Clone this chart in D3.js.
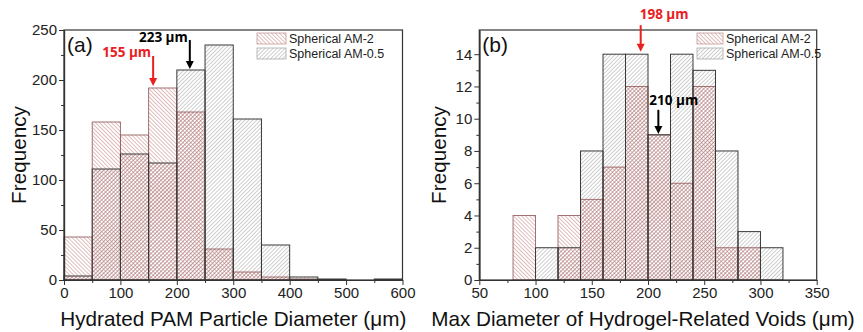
<!DOCTYPE html>
<html>
<head>
<meta charset="utf-8">
<script src="https://cdn.jsdelivr.net/npm/d3@7/dist/d3.min.js"></script>
<style>
  body { margin: 0; background: #fff; }
  svg { display: block; font-family: "Liberation Sans", Arial, sans-serif; }
</style>
</head>
<body>
<div id="viz"></div>
<script>
// panel (a): hydrated PAM particle diameter, bins of 50 um
var binsA = [0, 50, 100, 150, 200, 250, 300, 350, 400, 450, 500, 550];
var am2A  = [43, 158, 145, 192, 168, 31, 8, 3, 1, 0, 0, 0];
var am05A = [4, 111, 126, 117, 210, 235, 161, 35, 3, 1, 0, 1];

// panel (b): max diameter of hydrogel-related voids, bins of 20 um
var binsB = [80, 100, 120, 140, 160, 180, 200, 220, 240, 260, 280, 300];
var am2B  = [4, 0, 4, 5, 7, 12, 9, 6, 12, 2, 2, 0];
var am05B = [0, 2, 2, 8, 14, 14, 9, 14, 13, 8, 3, 2];

var xTicksA = [0, 100, 200, 300, 400, 500, 600];
var yTicksA = [0, 50, 100, 150, 200, 250];
var xTicksB = [50, 100, 150, 200, 250, 300, 350];
var yTicksB = [0, 2, 4, 6, 8, 10, 12, 14];

var seriesNames = ['Spherical AM-2', 'Spherical AM-0.5'];

// arrows: x, y start, y tip (data units), label
var arrowsA = [
  { x: 158, y0: 224, y1: 194, label: '155 \u03bcm', color: '#e8201f' },
  { x: 223, y0: 240, y1: 211, label: '223 \u03bcm', color: '#000' }
];
var arrowsB = [
  { x: 193.5, y0: 15.8, y1: 14.15, label: '198 \u03bcm', color: '#e8201f' },
  { x: 209.2, y0: 10.55, y1: 9.05, label: '210 \u03bcm', color: '#000' }
];

var W = 863, H = 332;
var svg = d3.select('#viz').append('svg').attr('width', W).attr('height', H);

var defs = svg.append('defs');
function hatch(id, angle, color, gap, sw) {
  var p = defs.append('pattern')
    .attr('id', id)
    .attr('patternUnits', 'userSpaceOnUse')
    .attr('width', gap).attr('height', gap)
    .attr('patternTransform', 'rotate(' + angle + ')');
  p.append('line')
    .attr('x1', 0).attr('y1', 0).attr('x2', 0).attr('y2', gap)
    .attr('stroke', color).attr('stroke-width', sw);
}
hatch('redHatch', -45, '#b56565', 2.8, 0.85);
hatch('redHatch2', 45, '#b87070', 2.8, 0.85);
hatch('grayHatch', 45, '#8c8c8c', 2.8, 0.85);

function panel(opt) {
  var g = svg.append('g');
  var x = d3.scaleLinear().domain(opt.xDomain).range([opt.left, opt.right]);
  var y = d3.scaleLinear().domain(opt.yDomain).range([opt.bottom, opt.top]);
  var overlap = opt.am2.map(function(v, i) { return Math.min(v, opt.am05[i]); });

  function bars(vals, fill, stroke, sw) {
    g.append('g').selectAll('rect').data(opt.bins)
      .enter().append('rect')
      .attr('x', function(d) { return x(d); })
      .attr('width', function(d) { return x(d + opt.binW) - x(d); })
      .attr('y', function(d, i) { return y(vals[i]); })
      .attr('height', function(d, i) { return y(0) - y(vals[i]); })
      .attr('fill', fill)
      .attr('stroke', stroke).attr('stroke-width', sw)
      .style('display', function(d, i) { return vals[i] > 0 ? null : 'none'; });
  }
  // AM-0.5 underneath, AM-2 on top, overlap cross-hatched red
  bars(opt.am05, 'url(#grayHatch)', 'none', 0);
  bars(opt.am2, 'url(#redHatch)', 'none', 0);
  bars(overlap, 'url(#redHatch2)', 'none', 0);
  bars(opt.am2, 'none', '#9a6464', 0.9);
  bars(opt.am05, 'none', '#3a3a3a', 1);

  // frame
  g.append('rect')
    .attr('x', opt.left).attr('y', opt.top)
    .attr('width', opt.right - opt.left).attr('height', opt.bottom - opt.top)
    .attr('fill', 'none').attr('stroke', '#333').attr('stroke-width', 1.2);

  // axes
  g.append('g').attr('transform', 'translate(0,' + opt.bottom + ')')
    .call(d3.axisBottom(x).tickValues(opt.xTicks).tickSize(5).tickSizeOuter(0).tickPadding(2));
  g.append('g').attr('transform', 'translate(0,' + opt.bottom + ')')
    .call(d3.axisBottom(x).tickValues(opt.xMinor).tickSize(3).tickSizeOuter(0).tickFormat(''));
  g.append('g').attr('transform', 'translate(' + opt.left + ',0)')
    .call(d3.axisLeft(y).tickValues(opt.yTicks).tickSize(5).tickSizeOuter(0).tickPadding(2));
  g.append('g').attr('transform', 'translate(' + opt.left + ',0)')
    .call(d3.axisLeft(y).tickValues(opt.yMinor).tickSize(3).tickSizeOuter(0).tickFormat(''));
  g.selectAll('.domain').attr('stroke', '#333').attr('stroke-width', 1.2);
  g.selectAll('.tick line').attr('stroke', '#333');
  g.selectAll('.tick text').attr('font-size', 15).attr('fill', '#222')
    .attr('font-family', '"Liberation Sans", Arial, sans-serif');

  // axis titles
  g.append('text')
    .attr('x', (opt.left + opt.right) / 2 + opt.xTitleDx).attr('y', 326)
    .attr('text-anchor', 'middle').attr('font-size', 20.7).attr('fill', '#111')
    .text(opt.xTitle);
  g.append('text')
    .attr('transform', 'translate(' + opt.yTitleX + ',' + ((opt.top + opt.bottom) / 2) + ') rotate(-90)')
    .attr('text-anchor', 'middle').attr('font-size', 20.7).attr('fill', '#111')
    .text('Frequency');

  // panel letter
  g.append('text')
    .attr('x', opt.left + 3).attr('y', opt.top + 22)
    .attr('font-size', 21).attr('fill', '#111')
    .text(opt.letter);

  // legend
  var lg = g.append('g');
  seriesNames.forEach(function(name, i) {
    var yy = 33 + i * 15;
    lg.append('rect')
      .attr('x', opt.legX).attr('y', yy)
      .attr('width', opt.legW).attr('height', 11)
      .attr('fill', i === 0 ? 'url(#redHatch)' : 'url(#grayHatch)')
      .attr('stroke', i === 0 ? '#c79a9a' : '#aaa').attr('stroke-width', 0.8);
    lg.append('text')
      .attr('x', opt.legX + opt.legW + 3).attr('y', yy + 10)
      .attr('font-size', 12.5).attr('fill', '#222')
      .text(name);
  });

  // arrows with labels
  opt.arrows.forEach(function(a, i) {
    var ax = x(a.x), ay0 = y(a.y0), ay1 = y(a.y1);
    g.append('line')
      .attr('x1', ax).attr('x2', ax).attr('y1', ay0).attr('y2', ay1 - 7)
      .attr('stroke', a.color).attr('stroke-width', 2);
    g.append('path')
      .attr('d', 'M' + (ax - 4) + ',' + (ay1 - 8) + 'L' + (ax + 4) + ',' + (ay1 - 8) + 'L' + ax + ',' + ay1 + 'Z')
      .attr('fill', a.color);
    var lp = opt.labelPos[i];
    g.append('text')
      .attr('x', ax + lp.dx).attr('y', ay0 + lp.dy)
      .attr('text-anchor', lp.anchor)
      .attr('font-family', '"Open Sans", sans-serif').attr('font-weight', 'bold')
      .attr('font-size', 13.5).attr('fill', a.color)
      .text(a.label);
  });
}

panel({
  letter: '(a)',
  left: 64, right: 402.5, top: 30, bottom: 280,
  xDomain: [0, 600], yDomain: [0, 250],
  bins: binsA, binW: 50, am2: am2A, am05: am05A,
  xTicks: xTicksA, yTicks: yTicksA,
  xMinor: d3.range(50, 600, 100), yMinor: d3.range(25, 250, 50),
  xTitle: 'Hydrated PAM Particle Diameter (\u03bcm)', xTitleDx: 0, yTitleX: 26,
  legX: 257, legW: 29,
  arrows: arrowsA,
  labelPos: [{ dx: -2, dy: 1, anchor: 'end' }, { dx: -2, dy: 2, anchor: 'end' }]
});

panel({
  letter: '(b)',
  left: 479.3, right: 816.7, top: 30, bottom: 280,
  xDomain: [50, 350], yDomain: [0, 15.5],
  bins: binsB, binW: 20, am2: am2B, am05: am05B,
  xTicks: xTicksB, yTicks: yTicksB,
  xMinor: d3.range(75, 350, 50), yMinor: d3.range(1, 15, 2),
  xTitle: 'Max Diameter of Hydrogel-Related Voids (\u03bcm)', xTitleDx: -5, yTitleX: 446,
  legX: 697, legW: 26,
  arrows: arrowsB,
  labelPos: [{ dx: -1, dy: -6, anchor: 'start' }, { dx: -9, dy: -5, anchor: 'start' }]
});
</script>
</body>
</html>
